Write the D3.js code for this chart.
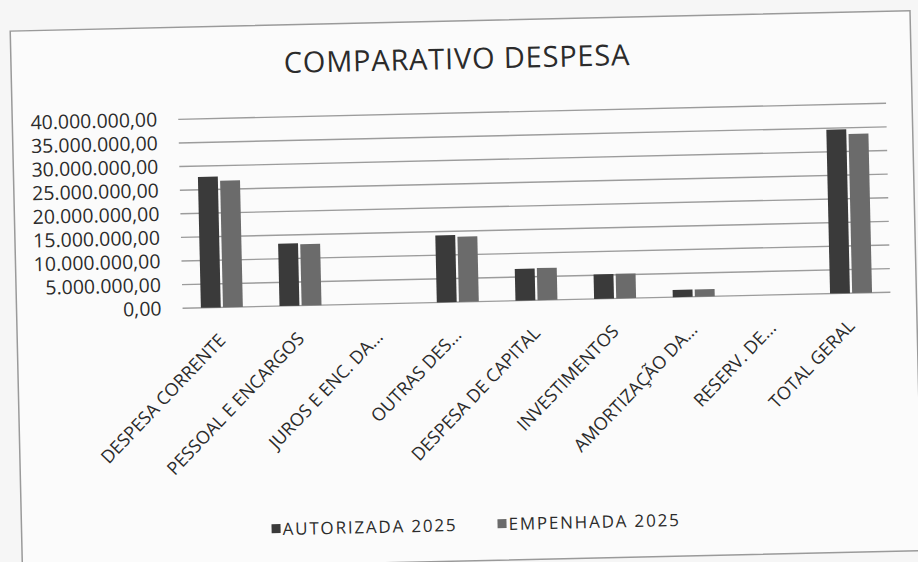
<!DOCTYPE html>
<html>
<head>
<meta charset="utf-8">
<script src="https://cdn.jsdelivr.net/npm/d3@7"></script>
<style>
  html, body { margin: 0; padding: 0; background: #f6f6f6; }
  svg { display: block; }
  text { font-family: "Open Sans", sans-serif; fill: #2b2b2b; }
</style>
</head>
<body>
<svg id="chart" width="918" height="562"></svg>
<script>
// ---- data ----
const categories = [
  "DESPESA CORRENTE", "PESSOAL E ENCARGOS", "JUROS E ENC. DA...", "OUTRAS DES...",
  "DESPESA DE CAPITAL", "INVESTIMENTOS", "AMORTIZAÇÃO DA...", "RESERV. DE...", "TOTAL GERAL"
];
const seriesNames = ["AUTORIZADA 2025", "EMPENHADA 2025"];
const autorizada2025 = [27700000, 13200000, 0, 14200000, 6700000, 5200000, 1500000, 0, 34700000];
const empenhada2025  = [26800000, 13000000, 0, 13800000, 6800000, 5200000, 1500000, 0, 33700000];
const yTicks = [0, 5000000, 10000000, 15000000, 20000000, 25000000, 30000000, 35000000, 40000000];
const titleText = "COMPARATIVO DESPESA";

const colors = ["#3a3a3a", "#6b6b6b"];

const svg = d3.select("#chart");

// whole chart slightly tilted, as in the photographed reference
const g = svg.append("g").attr("transform", "rotate(-1.3, 459, 281)");

// frame
g.append("rect")
  .attr("x", 16).attr("y", 21).attr("width", 900).attr("height", 540)
  .attr("fill", "#fbfbfb").attr("stroke", "#9a9a9a").attr("stroke-width", 1.5);

const plot = { left: 182, right: 890, top: 113, bottom: 302 };

const x0 = d3.scaleBand().domain(categories).range([plot.left, plot.right]).padding(0);
const x1 = d3.scaleBand().domain(seriesNames).range([0, 42]).paddingInner(0.1);
const y = d3.scaleLinear().domain([0, 40000000]).range([plot.bottom, plot.top]);

const locale = d3.formatLocale({ decimal: ",", thousands: ".", grouping: [3], currency: ["R$", ""] });
const fmt = locale.format(",.2f");

// gridlines
g.append("g").selectAll("line").data(yTicks).join("line")
  .attr("x1", plot.left).attr("x2", plot.right)
  .attr("y1", d => y(d)).attr("y2", d => y(d))
  .attr("stroke", "#9c9c9c").attr("stroke-width", 1.4);

// y axis labels
const yAxis = d3.axisLeft(y).tickValues(yTicks).tickFormat(fmt).tickSize(0).tickPadding(21);
const ya = g.append("g").attr("transform", `translate(${plot.left},0)`).call(yAxis);
ya.select(".domain").remove();
ya.selectAll("text")
  .style("font-family", "'Open Sans', sans-serif")
  .style("font-size", "19.5px").attr("fill", "#2b2b2b");

// bars
const data = categories.map((c, i) => ({ c, vals: [autorizada2025[i], empenhada2025[i]] }));
const grp = g.append("g").selectAll("g").data(data).join("g")
  .attr("transform", d => `translate(${x0(d.c) + x0.bandwidth() / 2 - 21},0)`);
grp.selectAll("rect").data(d => d.vals.map((v, j) => ({ v, s: seriesNames[j], j }))).join("rect")
  .attr("x", d => x1(d.s))
  .attr("width", x1.bandwidth())
  .attr("y", d => y(d.v))
  .attr("height", d => y(0) - y(d.v))
  .attr("fill", d => colors[d.j]);

// category labels
const xAxis = d3.axisBottom(x0).tickSize(0).tickPadding(0);
const xa = g.append("g").attr("transform", `translate(0,${plot.bottom})`).call(xAxis);
xa.select(".domain").remove();
xa.selectAll("text")
  .style("font-family", "'Open Sans', sans-serif")
  .style("font-size", "18px").attr("fill", "#2b2b2b")
  .attr("text-anchor", "end")
  .attr("dy", 0).attr("y", 0)
  .attr("transform", "translate(4,34) rotate(-45)");

// title
g.append("text")
  .attr("x", 462).attr("y", 69)
  .attr("text-anchor", "middle")
  .style("font-size", "29px").style("letter-spacing", "0.8px")
  .text(titleText);

// legend
const legendX = [266, 492];
const lg = g.append("g").selectAll("g").data(seriesNames).join("g")
  .attr("transform", (d, i) => `translate(${legendX[i]},525)`);
lg.append("rect").attr("x", 0).attr("y", -5).attr("width", 9).attr("height", 9)
  .attr("fill", (d, i) => colors[i]);
lg.append("text").attr("x", 11).attr("y", 6)
  .style("font-size", "17px").style("letter-spacing", "1.8px")
  .text(d => d);
</script>
</body>
</html>
